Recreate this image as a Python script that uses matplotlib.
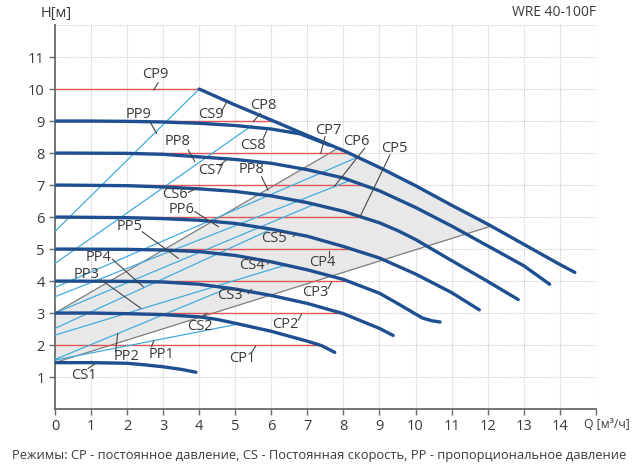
import matplotlib
matplotlib.use("Agg")
import matplotlib.pyplot as plt
import numpy as np

plt.rcParams['font.family'] = ['Open Sans', 'DejaVu Sans']

# ---- data ----
# constant speed curves CS1..CS9 (Q in m3/h, H in m)
cs1_q = [0, 1, 2, 2.5, 3, 3.5, 3.91]
cs1_h = [1.45, 1.45, 1.43, 1.38, 1.32, 1.24, 1.15]
cs2_q = [0, 1, 2, 3, 4, 4.5, 5, 6, 7, 7.4, 7.76]
cs2_h = [3.0, 3.0, 2.98, 2.95, 2.88, 2.8, 2.68, 2.43, 2.12, 1.98, 1.77]
cs3_q = [0, 2, 3, 4, 5, 6, 7, 8, 9, 9.38]
cs3_h = [4.0, 3.99, 3.97, 3.9, 3.75, 3.55, 3.3, 2.98, 2.52, 2.3]
cs4_q = [0, 2, 3, 4, 5, 6, 7, 8, 9, 9.5, 10, 10.2, 10.45, 10.68]
cs4_h = [5.0, 4.99, 4.97, 4.92, 4.8, 4.6, 4.35, 4.05, 3.62, 3.3, 2.97, 2.84, 2.76, 2.72]
cs5_q = [0, 2, 3, 4, 5, 6, 7, 8, 9, 10, 11, 11.77]
cs5_h = [6.0, 5.98, 5.95, 5.9, 5.8, 5.62, 5.4, 5.08, 4.72, 4.22, 3.64, 3.1]
cs6_q = [0, 2, 3, 4, 5, 6, 7, 8, 9, 9.5, 10, 11, 12, 12.85]
cs6_h = [7.0, 6.98, 6.94, 6.88, 6.8, 6.66, 6.45, 6.18, 5.82, 5.58, 5.3, 4.64, 3.99, 3.42]
cs7_q = [0, 2, 3, 4, 5, 6, 7, 8, 9, 10, 11, 12, 13, 13.72]
cs7_h = [8.0, 7.99, 7.96, 7.88, 7.8, 7.68, 7.48, 7.22, 6.82, 6.3, 5.72, 5.1, 4.48, 3.9]
cs8_q = [0, 1, 2, 3, 4, 5, 6, 6.8, 7.6]
cs8_h = [9.0, 9.0, 8.99, 8.97, 8.93, 8.86, 8.75, 8.6, 8.25]
cs9_q = [4.0, 5.0, 6.0, 7.0, 8.0, 9.0, 10.0, 11.0, 12.0, 13.0, 14.0, 14.42]
cs9_h = [10.0, 9.5, 9.03, 8.55, 8.08, 7.55, 6.98, 6.37, 5.78, 5.15, 4.52, 4.27]

# constant pressure levels CP1..CP9
cp_h = [2, 3, 4, 5, 6, 7, 8, 9, 10]

# proportional pressure lines PP1..PP9
pp_start_h = [1.53, 1.55, 2.31, 2.52, 3.0, 3.51, 3.8, 4.55, 5.55]
pp_end_q = [5.1, 4.8, 6.4, 6.0, 7.2, 8.2, 8.35, 5.45, 4.0]
pp_end_h = [2.66, 3.78, 4.5, 5.62, 6.4, 7.15, 7.85, 8.85, 10.0]

# borders of the shaded working field
low_start_h, low_end_q = 1.45, 12.1
up_start_h, up_end_q = 3.0, 7.85

curves = [(cs1_q, cs1_h), (cs2_q, cs2_h), (cs3_q, cs3_h), (cs4_q, cs4_h),
          (cs5_q, cs5_h), (cs6_q, cs6_h), (cs7_q, cs7_h), (cs8_q, cs8_h),
          (cs9_q, cs9_h)]

# text labels: name, text position, leader line start/end
labels = [
    ('CP9', 2.77, 10.44, 2.86, 10.2, 2.74, 9.97),
    ('CS9', 4.32, 9.21, 4.62, 9.29, 4.76, 9.6),
    ('CP8', 5.78, 9.47, 5.7, 9.24, 5.5, 8.98),
    ('PP9', 2.31, 9.21, 2.65, 8.95, 2.82, 8.61),
    ('CS8', 5.48, 8.23, 5.78, 8.46, 5.87, 8.69),
    ('PP8', 3.4, 8.35, 3.7, 8.09, 3.88, 7.73),
    ('CS7', 4.32, 7.44, 4.57, 7.6, 4.74, 7.78),
    ('PP8', 5.45, 7.47, 5.73, 7.26, 5.91, 6.84),
    ('CS6', 3.33, 6.69, 3.7, 6.77, 3.93, 6.9),
    ('PP6', 3.51, 6.22, 3.88, 6.17, 4.53, 5.7),
    ('PP5', 2.08, 5.7, 2.42, 5.54, 3.42, 4.71),
    ('PP4', 1.2, 4.74, 1.59, 4.68, 2.45, 3.82),
    ('PP3', 0.88, 4.19, 1.29, 4.03, 2.38, 3.15),
    ('PP2', 1.99, 1.64, 1.68, 1.79, 1.74, 2.36),
    ('PP1', 2.96, 1.69, 2.68, 1.95, 2.74, 2.13),
    ('CS2', 4.02, 2.59, 4.07, 2.88, 4.21, 2.99),
    ('CS1', 0.79, 1.06, 0.92, 1.27, 1.11, 1.41),
    ('CP1', 5.2, 1.58, 5.45, 1.76, 5.57, 1.97),
    ('CP2', 6.4, 2.63, 6.75, 2.78, 6.84, 2.97),
    ('CS3', 4.85, 3.56, 5.36, 3.61, 5.45, 3.74),
    ('CP3', 7.21, 3.64, 7.58, 3.77, 7.67, 3.96),
    ('CS4', 5.45, 4.5, 5.89, 4.53, 5.96, 4.63),
    ('CP4', 7.42, 4.57, 7.6, 4.74, 7.6, 4.95),
    ('CS5', 6.08, 5.33, 6.61, 5.39, 6.7, 5.49),
    ('CP7', 7.58, 8.7, 7.49, 8.51, 7.37, 7.99),
    ('CP6', 8.35, 8.35, 8.59, 8.15, 7.76, 6.97),
    ('CP5', 9.41, 8.15, 9.29, 7.94, 8.46, 6.01),
]


def cross_q(q, h, level):
    # first Q where the falling curve reaches the given head
    for i in range(len(h) - 1):
        if h[i] >= level >= h[i + 1] and h[i] != h[i + 1]:
            return q[i] + (h[i] - level) / (h[i] - h[i + 1]) * (q[i + 1] - q[i])
    return None


DARK = '#1d4f91'
RED = '#e05555'
LBLUE = '#43acdb'
GREY = '#7d7d7d'
TXT = '#3a3a3a'

fig = plt.figure(figsize=(6.4, 4.68), dpi=100)
ax = fig.add_axes([0.0859, 0.126, 0.845, 0.8205])
ax.set_xlim(0, 15)
ax.set_ylim(0, 12)

# grid
for v in range(1, 16):
    ax.axvline(v, color='#cccccc', lw=0.8, ls=(0, (1, 1)), zorder=0)
for v in range(1, 13):
    ax.axhline(v, color='#cccccc', lw=0.8, ls=(0, (1, 1)), zorder=0)

# shaded field
max_q = np.array(cs9_q)
max_h = np.array(cs9_h)
low_end_h = np.interp(low_end_q, max_q, max_h)
up_end_h = np.interp(up_end_q, max_q, max_h)
mid = (max_q > up_end_q) & (max_q < low_end_q)
poly_q = np.concatenate([[0, low_end_q], max_q[mid][::-1], [up_end_q, 0]])
poly_h = np.concatenate([[low_start_h, low_end_h], max_h[mid][::-1], [up_end_h, up_start_h]])
ax.fill(poly_q, poly_h, color='#e8e8e8', lw=0, zorder=1)
ax.plot([0, low_end_q], [low_start_h, low_end_h], color=GREY, lw=0.9, zorder=2)
ax.plot([0, up_end_q], [up_start_h, up_end_h], color=GREY, lw=0.9, zorder=2)

# constant pressure lines end on the next curve up
for i, lev in enumerate(cp_h):
    qe = None
    if i + 1 < len(curves):
        qe = cross_q(curves[i + 1][0], curves[i + 1][1], lev)
    if qe is None:
        qe = cross_q(cs9_q, cs9_h, lev)
    if qe is None:
        qe = cs9_q[0]
    ax.plot([0, qe], [lev, lev], color=RED, lw=1.0, zorder=2)

# proportional pressure lines
for s, eq, eh in zip(pp_start_h, pp_end_q, pp_end_h):
    ax.plot([0, eq], [s, eh], color=LBLUE, lw=0.9, zorder=3)

# constant speed curves
for q, h in curves:
    ax.plot(q, h, color=DARK, lw=2.4, solid_capstyle='round',
            solid_joinstyle='round', zorder=5)

# labels with leader lines
for name, tx, ty, x0, y0, x1, y1 in labels:
    ax.plot([x0, x1], [y0, y1], color='#444444', lw=0.8, zorder=6)
    ax.text(tx, ty, name, fontsize=10.5, color=TXT, ha='center', va='center', zorder=7)

# axes styling
for side in ['top', 'right']:
    ax.spines[side].set_visible(False)
for side in ['left', 'bottom']:
    ax.spines[side].set_color('#6a6a6a')
    ax.spines[side].set_linewidth(1.3)
ax.set_xticks(range(0, 16))
ax.set_xticklabels([str(v) for v in range(0, 15)] + [''])
ax.set_yticks(range(1, 12))
ax.set_yticklabels([str(v) for v in range(1, 12)])
ax.tick_params(colors='#6a6a6a', labelcolor=TXT, labelsize=10.5, length=4, width=1.0)

fig.text(56 / 640, 1 - 14 / 468, 'H[м]', fontsize=10.5, color=TXT, ha='center', va='center')
fig.text(596 / 640, 1 - 12 / 468, 'WRE 40-100F', fontsize=10, color=TXT, ha='right', va='center')
fig.text(607 / 640, 1 - 424 / 468, 'Q [м³/ч]', fontsize=8.8, color=TXT, ha='center', va='center')
fig.text(319 / 640, 1 - 455 / 468,
         'Режимы: CP - постоянное давление, CS - Постоянная скорость, PP - пропорциональное давление',
         fontsize=9.3, color=TXT, ha='center', va='center')

fig.savefig('out.png', dpi=100)
